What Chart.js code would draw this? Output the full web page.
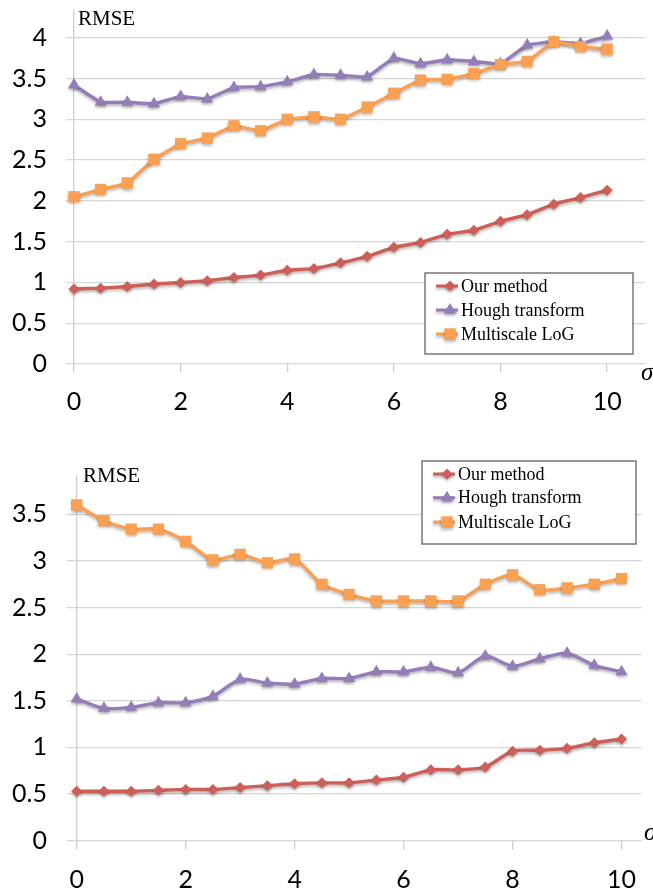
<!DOCTYPE html>
<html>
<head>
<meta charset="utf-8">
<script src="https://cdn.jsdelivr.net/npm/chart.js@4/dist/chart.umd.min.js"></script>
<style>
html,body{margin:0;padding:0;background:#fff;width:653px;height:894px;overflow:hidden;}
.wrap{position:absolute;left:0;width:653px;}
canvas{display:block;}
</style>
</head>
<body>
<div class="wrap" style="top:0;height:430px"><canvas id="c1" width="653" height="430"></canvas></div>
<div class="wrap" style="top:440px;height:454px"><canvas id="c2" width="653" height="454"></canvas></div>
<script>
// ---- data ----
const sigma = [0,0.5,1,1.5,2,2.5,3,3.5,4,4.5,5,5.5,6,6.5,7,7.5,8,8.5,9,9.5,10];
const seriesNames = ['Our method','Hough transform','Multiscale LoG'];

const topOurMethod   = [0.92,0.93,0.95,0.98,1.00,1.02,1.06,1.09,1.15,1.17,1.24,1.32,1.43,1.49,1.59,1.64,1.75,1.83,1.96,2.04,2.13];
const topHough       = [3.42,3.21,3.21,3.19,3.28,3.25,3.39,3.40,3.46,3.55,3.54,3.52,3.75,3.68,3.73,3.71,3.68,3.91,3.95,3.93,4.02];
const topMultiLoG    = [2.05,2.14,2.22,2.51,2.70,2.77,2.92,2.86,3.00,3.03,3.00,3.15,3.32,3.48,3.49,3.56,3.67,3.71,3.95,3.89,3.86];

const botOurMethod   = [0.53,0.53,0.53,0.54,0.55,0.55,0.57,0.59,0.61,0.62,0.62,0.65,0.68,0.76,0.76,0.79,0.96,0.97,0.99,1.05,1.09];
const botHough       = [1.52,1.42,1.43,1.48,1.48,1.55,1.73,1.69,1.68,1.74,1.74,1.81,1.81,1.86,1.80,1.98,1.87,1.95,2.01,1.88,1.81];
const botMultiLoG    = [3.60,3.43,3.34,3.34,3.21,3.01,3.07,2.98,3.02,2.75,2.64,2.57,2.57,2.57,2.57,2.75,2.85,2.69,2.71,2.75,2.81];

const xTickValues = [0,2,4,6,8,10];
const yTickValuesTop = [0,0.5,1,1.5,2,2.5,3,3.5,4];
const yTickValuesBottom = [0,0.5,1,1.5,2,2.5,3,3.5];

const yAxisLabel = 'RMSE';
const xAxisLabel = 'σ';

// ---- styling ----
const COLORS = ['#CD5F58','#957DB8','#F9A052'];
const MARKERS = [{s:'rectRot', r:5.5},{s:'triangle', r:7},{s:'rect', r:8}];
const TICK_FONT = {family:'Lato', size:25};

const shadowPlugin = {
  id:'shadow',
  beforeDatasetDraw(chart){
    const c = chart.ctx; c.save();
    c.shadowColor='rgba(0,0,0,0.28)'; c.shadowBlur=3; c.shadowOffsetX=0; c.shadowOffsetY=2;
  },
  afterDatasetDraw(chart){ chart.ctx.restore(); }
};

const decorPlugin = {
  id:'decor',
  afterDraw(chart, args, o){
    const c = chart.ctx;
    c.save();
    // RMSE label
    c.fillStyle='#000';
    c.font = '21px "Liberation Serif", serif';
    c.textBaseline='middle'; c.textAlign='left';
    c.fillText(yAxisLabel, o.rmse.x, o.rmse.y);
    // sigma
    c.font = 'italic 25px "Liberation Serif", serif';
    c.fillText(xAxisLabel, o.sigma.x, o.sigma.y);
    // legend
    const L = o.legend;
    c.fillStyle='#fff';
    c.fillRect(L.x, L.y, L.w, L.h);
    c.strokeStyle='#555'; c.lineWidth=1.2;
    c.strokeRect(L.x, L.y, L.w, L.h);
    chart.data.datasets.forEach((ds,i)=>{
      const y = L.rows[i];
      c.save();
      c.shadowColor='rgba(0,0,0,0.28)'; c.shadowBlur=3; c.shadowOffsetY=2;
      c.strokeStyle = ds.borderColor; c.lineWidth = 3;
      c.beginPath(); c.moveTo(L.lineX0, y); c.lineTo(L.lineX1, y); c.stroke();
      c.fillStyle = ds.borderColor;
      Chart.helpers.drawPoint(c, {pointStyle: ds.pointStyle, radius: ds.pointRadius, rotation:0, borderWidth:0}, (L.lineX0+L.lineX1)/2 + 3, y);
      c.restore();
      c.fillStyle='#000';
      c.font = '18px "Liberation Serif", serif';
      c.textBaseline='middle'; c.textAlign='left';
      c.fillText(ds.label, L.textX, y+1);
    });
    c.restore();
  }
};

function build(id, series, yTicks, g){
  const datasets = series.map((vals,i)=>({
    label: seriesNames[i],
    data: sigma.map((s,j)=>({x:s, y:vals[j]})),
    borderColor: COLORS[i],
    backgroundColor: COLORS[i],
    pointBackgroundColor: COLORS[i],
    borderWidth: 3.4,
    pointStyle: MARKERS[i].s,
    pointRadius: MARKERS[i].r,
    pointBorderWidth: 0,
    tension: g.tension,
    clip: false,
    order: 2 - i
  }));
  return new Chart(document.getElementById(id), {
    type:'line',
    data:{datasets},
    plugins:[shadowPlugin, decorPlugin],
    options:{
      responsive:false,
      animation:false,
      layout:{padding:{left:0, top:g.top, right:g.right, bottom:0}},
      plugins:{legend:{display:false}, tooltip:{enabled:false}, decor:g.decor},
      scales:{
        x:{
          type:'linear', min:0, max:g.xMax,
          afterBuildTicks:s=>{ s.ticks = xTickValues.map(v=>({value:v})); },
          afterFit:s=>{ s.height = g.xAxisH; s.paddingLeft=0; s.paddingRight=0; },
          grid:{drawOnChartArea:false, drawTicks:true, tickLength:g.xTickLen, color:'#cfcfcf', lineWidth:1.3},
          border:{display:false},
          ticks:{padding:g.xPad, font:TICK_FONT, color:'#000', maxRotation:0, autoSkip:false, callback:v=>String(v)}
        },
        y:{
          min:0, max:g.yMax,
          afterBuildTicks:s=>{ s.ticks = yTicks.map(v=>({value:v})); },
          afterFit:s=>{ s.width = g.yAxisW; s.paddingTop=0; s.paddingBottom=0; },
          grid:{color:'#d6d6d6', lineWidth:1.3, drawTicks:true, tickLength:g.yTickLen},
          border:{display:true, color:'#cfcfcf', width:1.3},
          ticks:{padding:g.yPad, font:TICK_FONT, color:'#000', autoSkip:false, callback:v=>String(v)}
        }
      }
    }
  });
}

build('c1', [topOurMethod, topHough, topMultiLoG], yTickValuesTop, {
  top:10, right:8, yAxisW:74, yTickLen:8, yPad:19, xAxisH:66, xTickLen:8, xPad:15,
  xMax:10.71, yMax:4.34, tension:0.1,
  decor:{rmse:{x:78,y:19}, sigma:{x:641,y:373},
    legend:{x:425,y:273,w:208,h:81, rows:[286,310,334], lineX0:436, lineX1:458, textX:461}}
});

build('c2', [botOurMethod, botHough, botMultiLoG], yTickValuesBottom, {
  top:36, right:11.3, yAxisW:76.7, yTickLen:10, yPad:19.7, xAxisH:53.3, xTickLen:9, xPad:15,
  xMax:10.37, yMax:3.91, tension:0.25,
  decor:{rmse:{x:83,y:36.7}, sigma:{x:644,y:393},
    legend:{x:422,y:21,w:214,h:83, rows:[34,57.7,82], lineX0:433, lineX1:455, textX:458}}
});
</script>
</body>
</html>
